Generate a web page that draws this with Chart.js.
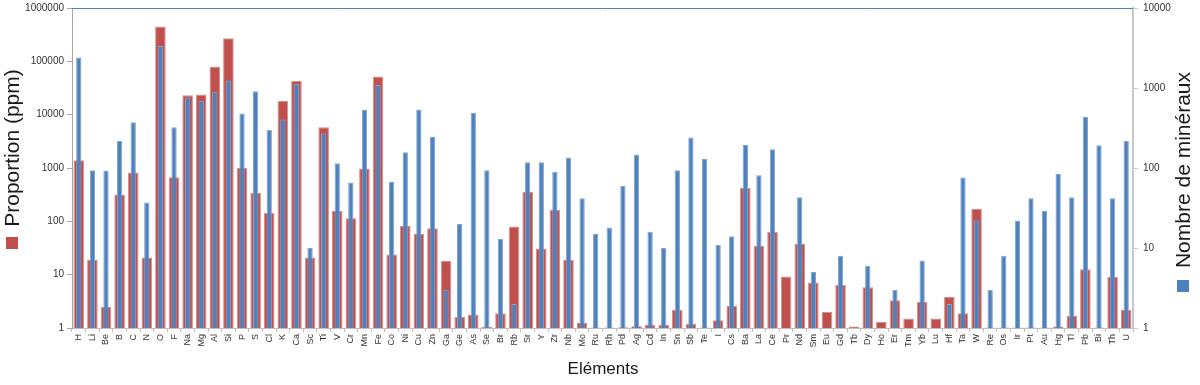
<!DOCTYPE html>
<html>
<head>
<meta charset="utf-8">
<script src="https://cdn.jsdelivr.net/npm/chart.js@4.4.1/dist/chart.umd.min.js"></script>
<style>
    body { margin: 0; background: #fff; }
    canvas { display: block; }
</style>
</head>
<body>
<canvas id="Canvas" width="1200" height="385"></canvas>
<script>
const elements = ['H','Li','Be','B','C','N','O','F','Na','Mg','Al','Si','P','S','Cl','K','Ca','Sc','Ti','V',
    'Cr','Mn','Fe','Co','Ni','Cu','Zn','Ga','Ge','As','Se','Br','Rb','Sr','Y','Zr','Nb','Mo','Ru','Rh',
    'Pd','Ag','Cd','In','Sn','Sb','Te','I','Cs','Ba','La','Ce','Pr','Nd','Sm','Eu','Gd','Tb','Dy','Ho',
    'Er','Tm','Yb','Lu','Hf','Ta','W','Re','Os','Ir','Pt','Au','Hg','Tl','Pb','Bi','Th','U'];

// abondance dans la croûte (ppm), axe de gauche
const proportion = [1400, 19, 2.5, 320, 820, 21, 450000, 670, 23000, 24000, 80000, 270000, 1000, 340, 145, 18000, 43000, 21, 5800, 156,
    114, 980, 52000, 24, 82, 58, 74, 18, 1.6, 1.8, 1.05, 1.9, 80, 360, 31, 165, 19, 1.25, 1.02, 1.02,
    1.03, 1.08, 1.15, 1.15, 2.2, 1.2, 1.02, 1.4, 2.6, 420, 35, 64, 9.2, 38, 7.1, 2.0, 6.4, 1.07, 5.8, 1.3,
    3.3, 1.5, 3.1, 1.5, 3.8, 1.9, 173, 1.02, 1.02, 1.02, 1.02, 1.02, 1.07, 1.7, 12.6, 1.02, 9, 2.2];

// nombre de minéraux, axe de droite
const mineraux = [2400, 94, 93, 218, 372, 37, 3350, 322, 760, 690, 900, 1240, 480, 910, 300, 405, 1120, 10, 270, 115,
    66, 530, 1090, 67, 157, 540, 245, 3, 20, 490, 94, 13, 2, 118, 118, 90, 135, 42, 15, 18,
    60, 148, 16, 10, 94, 240, 130, 11, 14, 194, 81, 171, null, 43, 5, null, 8, null, 6, null,
    3, null, 7, null, 2, 76, 22, 3, 8, 22, 42, 29, 84, 43, 435, 192, 42, 219];

const leftTicks = [1, 10, 100, 1000, 10000, 100000, 1000000];
const rightTicks = [1, 10, 100, 1000, 10000];

const red = '#C0504D';
const blue = '#4F81BD';
const font = '"Liberation Sans", Arial, sans-serif';

const titles = {
    id: 'titles',
    afterDraw(chart) {
        const ctx = chart.ctx;
        const area = chart.chartArea;
        ctx.save();
        // ligne du haut
        ctx.strokeStyle = blue;
        ctx.lineWidth = 1;
        ctx.beginPath();
        ctx.moveTo(area.left, area.top + 0.5);
        ctx.lineTo(area.right, area.top + 0.5);
        ctx.stroke();

        ctx.fillStyle = '#1a1a1a';
        ctx.textAlign = 'center';
        ctx.textBaseline = 'middle';
        ctx.font = '21px ' + font;

        ctx.save();
        ctx.translate(13, 148);
        ctx.rotate(-Math.PI / 2);
        ctx.fillText('Proportion (ppm)', 0, 0);
        ctx.restore();

        ctx.save();
        ctx.translate(1184, 170);
        ctx.rotate(-Math.PI / 2);
        ctx.fillText('Nombre de minéraux', 0, 0);
        ctx.restore();

        ctx.font = '17px ' + font;
        ctx.fillText('Eléments', 603, 369);

        ctx.fillStyle = red;
        ctx.fillRect(6, 237, 12, 12);
        ctx.fillStyle = blue;
        ctx.fillRect(1177, 280, 12, 12);
        ctx.restore();
    }
};

const ctx = document.getElementById('Canvas').getContext('2d');

const config = {
    type: 'bar',
    data: {
        labels: elements,
        datasets: [
            {
                label: 'Proportion (ppm)',
                data: proportion,
                yAxisID: 'y',
                backgroundColor: red,
                borderColor: '#D58F8D',
                borderWidth: 1,
                grouped: false,
                barPercentage: 0.78,
                categoryPercentage: 1,
                order: 2
            },
            {
                label: 'Nombre de minéraux',
                data: mineraux,
                yAxisID: 'y1',
                backgroundColor: blue,
                borderColor: '#7FA3CF',
                borderWidth: 1,
                grouped: false,
                barPercentage: 0.39,
                categoryPercentage: 1,
                order: 1
            }
        ]
    },
    options: {
        responsive: false,
        animation: false,
        devicePixelRatio: 1,
        layout: { padding: { top: 8, left: 0, right: 0, bottom: 0 } },
        plugins: {
            legend: { display: false },
            tooltip: { enabled: false }
        },
        scales: {
            x: {
                offset: true,
                grid: { display: true, drawOnChartArea: false, drawTicks: true, tickLength: 4, color: '#BFBFBF', offset: true },
                border: { display: true, color: '#BFBFBF' },
                ticks: {
                    autoSkip: false,
                    minRotation: 90,
                    maxRotation: 90,
                    padding: 2,
                    color: '#333',
                    font: { size: 9, family: font }
                },
                afterFit: scale => { scale.height = 57; }
            },
            y: {
                type: 'logarithmic',
                position: 'left',
                min: 1,
                max: 1000000,
                afterBuildTicks: axis => { axis.ticks = leftTicks.map(v => ({ value: v })); },
                grid: { drawOnChartArea: false, drawTicks: true, tickLength: 5, color: '#A6A6A6' },
                border: { display: true, color: '#A6A6A6' },
                ticks: {
                    padding: 3,
                    color: '#333',
                    font: { size: 10, family: font, lineHeight: 1 },
                    callback: v => String(v)
                },
                afterFit: scale => { scale.width = 72; }
            },
            y1: {
                type: 'logarithmic',
                position: 'right',
                min: 1,
                max: 10000,
                afterBuildTicks: axis => { axis.ticks = rightTicks.map(v => ({ value: v })); },
                grid: { drawOnChartArea: false, drawTicks: true, tickLength: 5, color: '#C8C8C8' },
                border: { display: true, color: '#C8C8C8', width: 2 },
                ticks: {
                    padding: 5,
                    color: '#333',
                    font: { size: 10, family: font, lineHeight: 0.6 },
                    callback: v => String(v)
                },
                afterFit: scale => { scale.width = 67; }
            }
        }
    },
    plugins: [titles]
};

new Chart(ctx, config);
</script>
</body>
</html>
